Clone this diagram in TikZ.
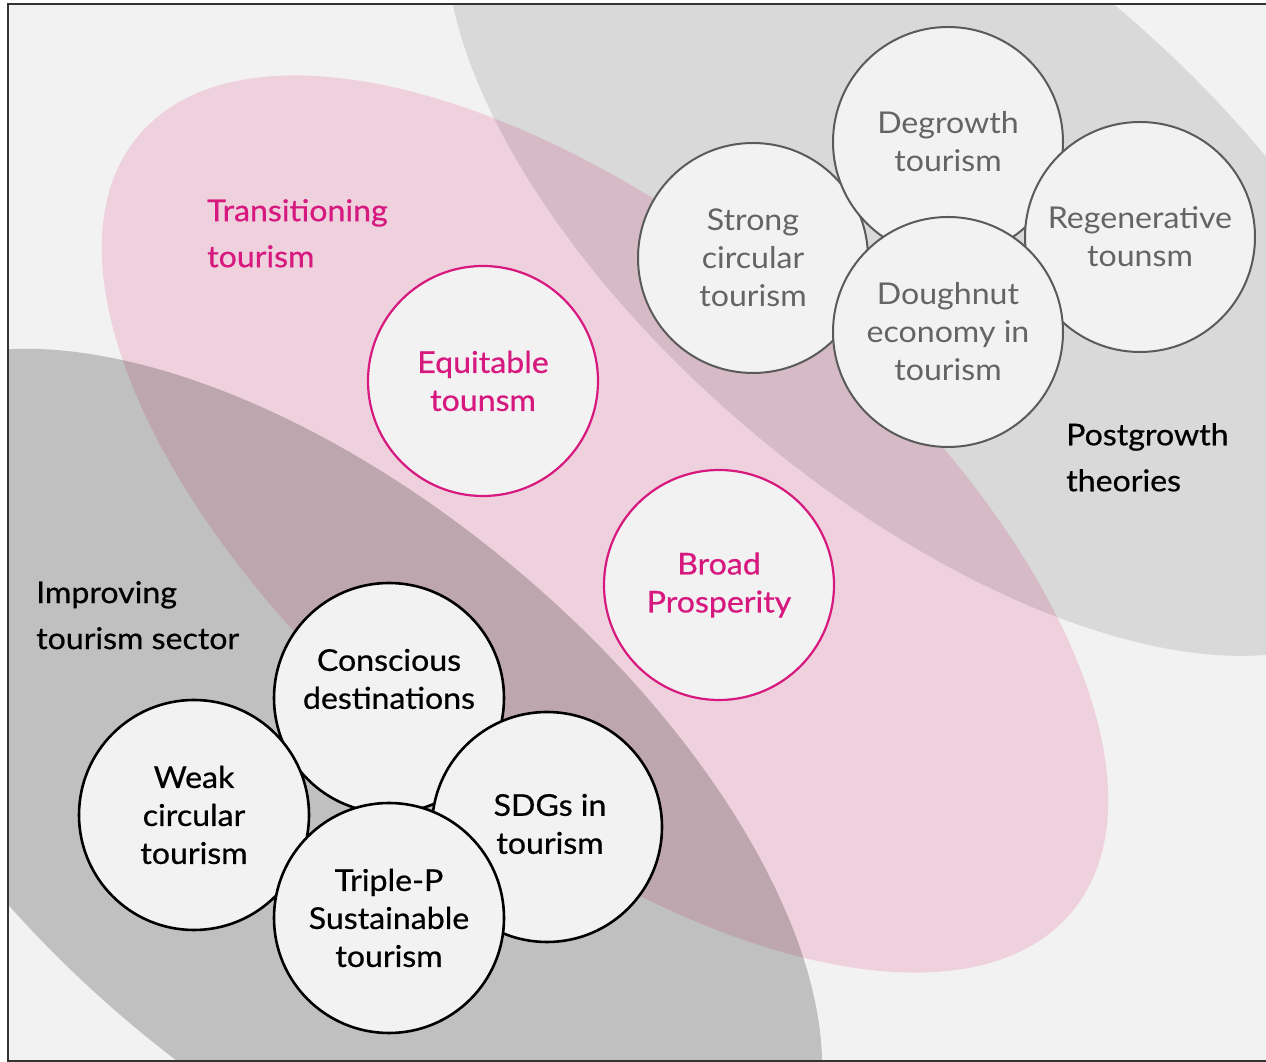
\documentclass[tikz,border=0pt]{standalone}
\usepackage{fontspec}
\setmainfont{Lato}[FakeStretch=1.07]
\newfontfamily\medfont{Lato}[FakeStretch=1.07, FakeBold=0.6]
\definecolor{bgc}{HTML}{F2F2F2}
\definecolor{pinkfill}{HTML}{EFD1DD}
\definecolor{mag}{HTML}{D6187F}
\definecolor{grayline}{HTML}{5A5A5A}
\definecolor{graytext}{HTML}{646464}
\definecolor{framec}{HTML}{333333}
\begin{document}
\begin{tikzpicture}[x=1pt,y=1pt,
  basec/.style={circle, fill=bgc, minimum size=230pt, inner sep=0pt, align=center,
    font=\fontsize{30}{38}\selectfont},
  postc/.style={basec, draw=grayline, line width=2pt, text=graytext},
  impc/.style={basec, draw=black, line width=2.6pt, text=black, font=\medfont\fontsize{30}{38}\selectfont},
  tranc/.style={basec, draw=mag, line width=2.2pt, text=mag, font=\medfont\fontsize{30}{38}\selectfont},
  lbl/.style={anchor=north west, inner sep=0pt, align=left, font=\medfont\fontsize{30}{46}\selectfont}
]
\useasboundingbox (0,0) rectangle (1266,1062);
\fill[white] (0,0) rectangle (1266,1062);
\begin{scope}
\clip (8,1) rectangle (1266,1058);
\fill[bgc] (8,1) rectangle (1290,1058);
% pink transitioning ellipse
\fill[pinkfill, rotate around={-39.7:(605,538)}] (605,538) ellipse [x radius=607, y radius=293];
% postgrowth ellipse (top right)
\fill[black, fill opacity=0.10, rotate around={-40:(934,843)}] (934,843) ellipse [x radius=592, y radius=280];
% improving ellipse (bottom left)
\fill[black, fill opacity=0.205, rotate around={-40:(324,265)}] (324,265) ellipse [x radius=600, y radius=298];
\end{scope}
\draw[framec, line width=2pt] (8,1) rectangle (1290,1058);
% postgrowth circles
\node[postc] (strong) at (753,804) {Strong\\circular\\tourism};
\node[postc] (degrowth) at (948,920) {Degrowth\\tourism};
\node[postc] (regen) at (1140,825) {Regenerative\\tounsm};
\node[postc] (doughnut) at (948,730) {Doughnut\\economy in\\tourism};
% transitioning circles
\node[tranc] (equitable) at (483,681) {Equitable\\tounsm};
\node[tranc] (broad) at (719,477) {Broad\\Prosperity};
% improving circles
\node[impc] (conscious) at (389,364) {};
\node[impc] (weak) at (194,247) {Weak\\circular\\tourism};
\node[impc] (sdgs) at (547,235) {};
\node[impc] (triple) at (389,144) {Triple-P\\Sustainable\\tourism};
% texts placed off-centre inside their circles
\node[align=center, inner sep=0pt, font=\medfont\fontsize{30}{38}\selectfont] (conscioustext) at (389,383) {Conscious\\destinations};
\node[align=center, inner sep=0pt, font=\medfont\fontsize{30}{38}\selectfont] (sdgstext) at (550,238) {SDGs in\\tourism};
% labels
\node[lbl, text=mag] (ltrans) at (207,863) {Transitioning\\tourism};
\node[lbl, text=black] (lpost) at (1066,639) {Postgrowth\\theories};
\node[lbl, text=black] (limp) at (36,481) {Improving\\tourism sector};
\end{tikzpicture}
\end{document}
